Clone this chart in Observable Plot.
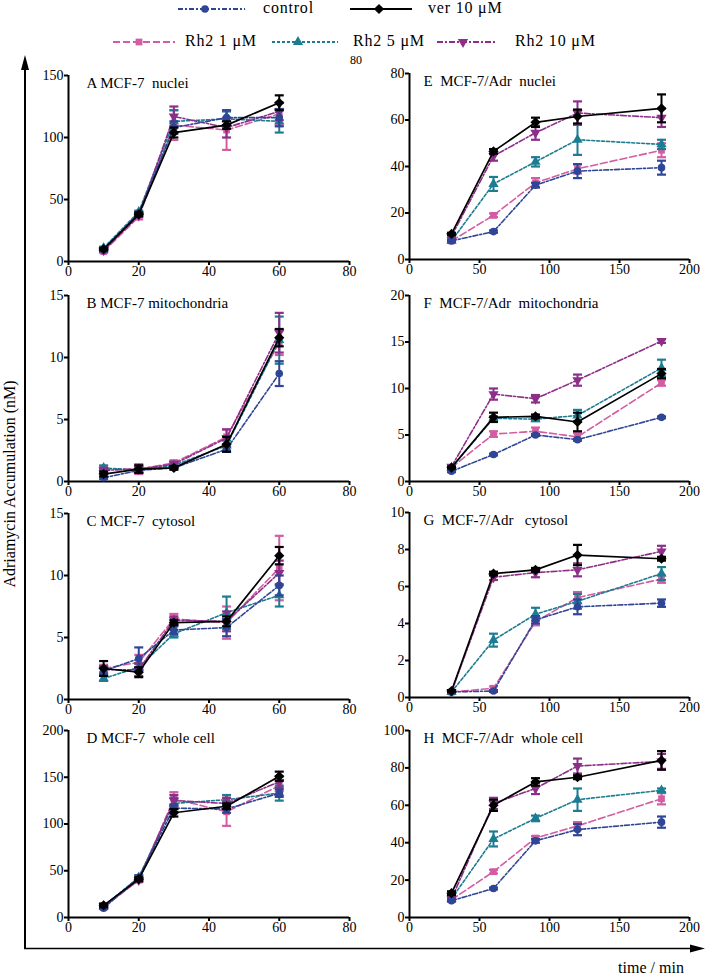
<!DOCTYPE html>
<html><head><meta charset="utf-8">
<script src="https://cdn.jsdelivr.net/npm/d3@7"></script>
<script src="https://cdn.jsdelivr.net/npm/@observablehq/plot@0.6"></script>
<style>
body{margin:0;background:#fff;}
#root{position:relative;width:709px;height:979px;overflow:hidden;font-family:"Liberation Serif","Times New Roman",Times,"DejaVu Serif",serif;color:#000;}
.abs{position:absolute;}
.leg{position:absolute;font-size:16px;letter-spacing:0.8px;white-space:nowrap;line-height:16px;}
</style></head><body><div id="root"></div>
<script>
// ---- series ----
const seriesNames = ["control", "ver 10 μM", "Rh2 1 μM", "Rh2 5 μM", "Rh2 10 μM"];
const seriesColors = ["#2f4596", "#000000", "#d35ca3", "#1c7c92", "#8d2e88"];
const seriesDash = ["5,2,2,2", null, "7,3", "3,2", "6,2,2,2"];
const seriesSymbols = ["circle", "diamond2", "square", "triangle", "triangleDown"];
const drawOrder = [2, 3, 4, 0, 1];

// ---- x values / ticks ----
const timesMCF7 = [10, 20, 30, 45, 60];
const timesAdr = [30, 60, 90, 120, 180];
const xTicksMCF7 = [0, 20, 40, 60, 80];
const xTicksAdr = [0, 50, 100, 150, 200];

// ---- panel titles ----
const panelTitles = ["A MCF-7  nuclei", "B MCF-7 mitochondria", "C MCF-7  cytosol", "D MCF-7  whole cell",
  "E  MCF-7/Adr  nuclei", "F  MCF-7/Adr  mitochondria", "G  MCF-7/Adr   cytosol", "H  MCF-7/Adr  whole cell"];

// ---- y ticks ----
const yTicksA = [0, 50, 100, 150];
const yTicksB = [0, 5, 10, 15];
const yTicksC = [0, 5, 10, 15];
const yTicksD = [0, 50, 100, 150, 200];
const yTicksE = [0, 20, 40, 60, 80];
const yTicksF = [0, 5, 10, 15, 20];
const yTicksG = [0, 2, 4, 6, 8, 10];
const yTicksH = [0, 20, 40, 60, 80, 100];

// ---- means (rows: control, ver, Rh2 1, Rh2 5, Rh2 10) and SEM ----
const meanA = [[9, 39, 108, 116, 116], [10, 38, 104, 110, 128], [8, 36, 110, 106, 119], [11, 40, 113, 115, 113], [9, 37, 117, 108, 121]];
const errA  = [[1, 1, 5, 6, 7], [1, 1.5, 4, 3, 6], [1, 2, 12, 16, 9], [1, 1, 9, 6, 9], [1, 1, 8, 8, 7]];
const meanB = [[0.3, 0.9, 1.1, 2.6, 8.7], [0.6, 1.0, 1.1, 3.0, 11.6], [1.0, 1.0, 1.5, 3.6, 11.2], [1.1, 0.9, 1.3, 2.9, 11.4], [0.9, 1.0, 1.4, 3.5, 12.0]];
const errB  = [[0.1, 0.1, 0.1, 0.2, 1.0], [0.2, 0.3, 0.15, 0.6, 0.7], [0.2, 0.4, 0.2, 0.6, 1.0], [0.2, 0.2, 0.1, 0.4, 1.9], [0.2, 0.3, 0.2, 0.7, 1.6]];
const meanC = [[2.3, 3.3, 5.6, 5.8, 9.2], [2.5, 2.2, 6.2, 6.3, 11.6], [2.5, 3.0, 6.5, 6.2, 10.6], [1.7, 2.6, 5.3, 7.0, 8.4], [2.4, 2.4, 6.4, 6.3, 10.2]];
const errC  = [[0.3, 0.9, 0.3, 0.7, 0.8], [0.6, 0.4, 0.2, 0.4, 0.7], [0.3, 0.6, 0.4, 1.3, 2.6], [0.2, 0.3, 0.3, 1.3, 0.9], [0.3, 0.5, 0.3, 0.8, 1.0]];
const meanD = [[10, 43, 117, 116, 133], [13, 41, 112, 119, 151], [11, 40, 127, 113, 141], [12, 43, 122, 126, 133], [12, 40, 125, 122, 145]];
const errD  = [[1, 2, 4, 4, 4], [2, 2, 4, 3, 5], [1, 2, 7, 15, 6], [1, 2, 6, 5, 8], [1, 2, 6, 6, 6]];
const meanE = [[8, 12, 32, 38, 39.5], [11, 46.5, 59, 61.5, 65], [8, 19, 33, 39, 47], [8, 32.5, 42, 51.5, 49.5], [10, 44.5, 54.5, 63, 61]];
const errE  = [[0.5, 0.5, 1, 3, 3], [0.5, 1, 2, 3, 6], [0.5, 0.8, 2, 2, 3], [0.5, 3, 2, 6.5, 2], [0.5, 2, 3, 5, 4]];
const meanF = [[1.1, 2.9, 5.0, 4.5, 6.9], [1.5, 6.9, 7.0, 6.4, 11.6], [1.5, 5.1, 5.4, 4.8, 10.6], [1.5, 6.8, 6.7, 7.1, 12.2], [1.6, 9.4, 8.9, 10.9, 15.1]];
const errF  = [[0.1, 0.1, 0.1, 0.1, 0.1], [0.1, 0.5, 0.2, 1.0, 0.5], [0.1, 0.3, 0.4, 0.4, 0.3], [0.1, 0.2, 0.2, 0.6, 0.9], [0.1, 0.6, 0.4, 0.6, 0.2]];
const meanG = [[0.3, 0.35, 4.2, 4.9, 5.1], [0.35, 6.7, 6.9, 7.7, 7.5], [0.3, 0.5, 4.1, 5.4, 6.4], [0.3, 3.1, 4.5, 5.2, 6.7], [0.3, 6.5, 6.75, 6.9, 7.9]];
const errG  = [[0.05, 0.05, 0.2, 0.4, 0.2], [0.05, 0.1, 0.1, 0.55, 0.1], [0.05, 0.1, 0.2, 0.3, 0.2], [0.05, 0.35, 0.35, 0.4, 0.35], [0.05, 0.15, 0.25, 0.35, 0.3]];
const meanH = [[9, 15.5, 41, 47, 51], [13, 60, 72.5, 75, 84], [9.5, 24.5, 42.5, 49, 63.5], [10, 42, 53, 63, 68], [10, 61, 69, 81, 83.5]];
const errH  = [[0.5, 0.5, 1, 3, 3], [1, 3, 2, 1, 5], [0.5, 1, 1, 2, 3], [0.5, 4, 1.5, 6, 1], [0.5, 3, 3, 4, 4]];

// ---- custom symbols ----
const capSymbol = {draw(ctx, size) { const w = Math.sqrt(size / Math.PI); ctx.moveTo(-w, 0); ctx.lineTo(w, 0); }};
const triDown = {draw(ctx, size) {
  const y = -Math.sqrt(size / (Math.sqrt(3) * 3));
  ctx.moveTo(0, -y * 2); ctx.lineTo(-Math.sqrt(3) * y, y); ctx.lineTo(Math.sqrt(3) * y, y); ctx.closePath();
}};
function symbolFor(name) { return name === "triangleDown" ? triDown : name; }

// ---- panel layout ----
const panels = [
  {mean: meanA, err: errA, times: timesMCF7, xTicks: xTicksMCF7, yTicks: yTicksA, col: 0, top: 75, bottom: 261},
  {mean: meanB, err: errB, times: timesMCF7, xTicks: xTicksMCF7, yTicks: yTicksB, col: 0, top: 295, bottom: 481},
  {mean: meanC, err: errC, times: timesMCF7, xTicks: xTicksMCF7, yTicks: yTicksC, col: 0, top: 513, bottom: 699},
  {mean: meanD, err: errD, times: timesMCF7, xTicks: xTicksMCF7, yTicks: yTicksD, col: 0, top: 730, bottom: 917},
  {mean: meanE, err: errE, times: timesAdr, xTicks: xTicksAdr, yTicks: yTicksE, col: 1, top: 73, bottom: 259},
  {mean: meanF, err: errF, times: timesAdr, xTicks: xTicksAdr, yTicks: yTicksF, col: 1, top: 295, bottom: 481},
  {mean: meanG, err: errG, times: timesAdr, xTicks: xTicksAdr, yTicks: yTicksG, col: 1, top: 512, bottom: 697},
  {mean: meanH, err: errH, times: timesAdr, xTicks: xTicksAdr, yTicks: yTicksH, col: 1, top: 730, bottom: 917}
];
const cols = [{left: 0, width: 360, ml: 68, mr: 11}, {left: 360, width: 349, ml: 49, mr: 20}];

const root = document.getElementById("root");
const FONT = "Liberation Serif, Times New Roman, Times, DejaVu Serif, serif";

panels.forEach((p, pi) => {
  const c = cols[p.col];
  const mt = 20, mb = 30;
  const rows = [];
  p.mean.forEach((arr, si) => arr.forEach((v, k) => rows.push({s: si, t: p.times[k], y: v, e: p.err[si][k]})));
  const marks = [];
  for (const si of drawOrder) {
    const d = rows.filter(r => r.s === si);
    const col = seriesColors[si];
    marks.push(Plot.ruleX(d, {x: "t", y1: r => r.y - r.e, y2: r => r.y + r.e, stroke: col, strokeWidth: 2}));
    marks.push(Plot.dot(d, {x: "t", y: r => r.y + r.e, symbol: capSymbol, r: 4.5, stroke: col, strokeWidth: 2.2, fill: "none"}));
    marks.push(Plot.dot(d, {x: "t", y: r => r.y - r.e, symbol: capSymbol, r: 4.5, stroke: col, strokeWidth: 2.2, fill: "none"}));
    const lineOpts = {x: "t", y: "y", stroke: col, strokeWidth: si === 1 ? 1.7 : 1.6};
    if (seriesDash[si]) lineOpts.strokeDasharray = seriesDash[si];
    marks.push(Plot.line(d, lineOpts));
    marks.push(Plot.dot(d, {x: "t", y: "y", symbol: symbolFor(seriesSymbols[si]), r: si === 1 ? 4.6 : 3.8, fill: col, stroke: "none"}));
  }
  const yMax = p.yTicks[p.yTicks.length - 1];
  const xMax = p.xTicks[p.xTicks.length - 1];
  const svg = Plot.plot({
    width: c.width, height: p.bottom - p.top + mt + mb,
    marginLeft: c.ml, marginRight: c.mr, marginTop: mt, marginBottom: mb,
    style: {fontFamily: FONT, fontSize: "14px", background: "transparent", overflow: "visible", color: "#000"},
    x: {domain: [0, xMax]},
    y: {domain: [0, yMax]},
    marks: [
      Plot.axisX({ticks: p.xTicks, tickSize: 4, tickPadding: 1, strokeWidth: 2, label: null, fontSize: 14, fontFamily: FONT}),
      Plot.axisY({ticks: p.yTicks, tickSize: 4, tickPadding: 1, strokeWidth: 2, label: null, fontSize: 14, fontFamily: FONT}),
      Plot.ruleX([0], {strokeWidth: 2}),
      Plot.ruleY([0], {strokeWidth: 2}),
      ...marks,
      Plot.text([panelTitles[pi]], {frameAnchor: "top-left", dx: p.col === 0 ? 18 : 14, dy: 8, textAnchor: "start", lineAnchor: "middle", fontSize: 15, fontFamily: FONT, text: d => d})
    ]
  });
  svg.style.position = "absolute";
  svg.style.left = c.left + "px";
  svg.style.top = (p.top - mt) + "px";
  svg.style.fontFamily = FONT;
  root.appendChild(svg);
});

// ---- overlay: big axes arrows, axis titles, stray label ----
const ov = d3.select(root).append("svg").attr("class", "abs").attr("width", 709).attr("height", 979)
  .style("left", "0px").style("top", "0px").style("pointer-events", "none").style("font-family", FONT);
ov.append("line").attr("x1", 25).attr("x2", 25).attr("y1", 66).attr("y2", 949).attr("stroke", "#000").attr("stroke-width", 2);
ov.append("path").attr("d", "M25,55 L21,70 L29,70 Z").attr("fill", "#000");
ov.append("line").attr("x1", 24).attr("x2", 694).attr("y1", 948.5).attr("y2", 948.5).attr("stroke", "#000").attr("stroke-width", 1.5);
ov.append("path").attr("d", "M705,948.5 L690,944.5 L690,952.5 Z").attr("fill", "#000");
ov.append("text").attr("x", 651).attr("y", 973).attr("text-anchor", "middle").attr("font-size", 16).text("time / min");
ov.append("text").attr("transform", "translate(15,484) rotate(-90)").attr("text-anchor", "middle").attr("font-size", 16).text("Adriamycin Accumulation (nM)");
ov.append("text").attr("x", 356).attr("y", 64).attr("text-anchor", "middle").attr("font-size", 12).text("80");

// ---- legend ----
const legendItems = [
  {s: 0, x0: 178, x1: 245, mx: 205, tx: 263, y: 9},
  {s: 1, x0: 350, x1: 412, mx: 379, tx: 428, y: 9},
  {s: 2, x0: 113, x1: 175, mx: 139, tx: 185, y: 42},
  {s: 3, x0: 272, x1: 338, mx: 298, tx: 353, y: 42},
  {s: 4, x0: 437, x1: 497, mx: 463, tx: 515, y: 42}
];
legendItems.forEach(it => {
  const col = seriesColors[it.s];
  const ln = ov.append("line").attr("x1", it.x0).attr("x2", it.x1).attr("y1", it.y).attr("y2", it.y)
    .attr("stroke", col).attr("stroke-width", it.s === 1 ? 2 : 1.8);
  if (seriesDash[it.s]) ln.attr("stroke-dasharray", seriesDash[it.s]);
  const sym = seriesSymbols[it.s];
  const type = sym === "circle" ? d3.symbolCircle : sym === "diamond2" ? d3.symbolDiamond2 : sym === "square" ? d3.symbolSquare : sym === "triangle" ? d3.symbolTriangle : triDown;
  const rr = it.s === 1 ? 4.6 : 3.8;
  ov.append("path").attr("d", d3.symbol().type(type).size(Math.PI * rr * rr)()).attr("transform", `translate(${it.mx},${it.y})`).attr("fill", col);
  const div = document.createElement("div");
  div.className = "leg";
  div.style.left = it.tx + "px";
  div.style.top = (it.y - 9) + "px";
  div.style.fontFamily = FONT;
  div.textContent = seriesNames[it.s];
  root.appendChild(div);
});
</script></body></html>
